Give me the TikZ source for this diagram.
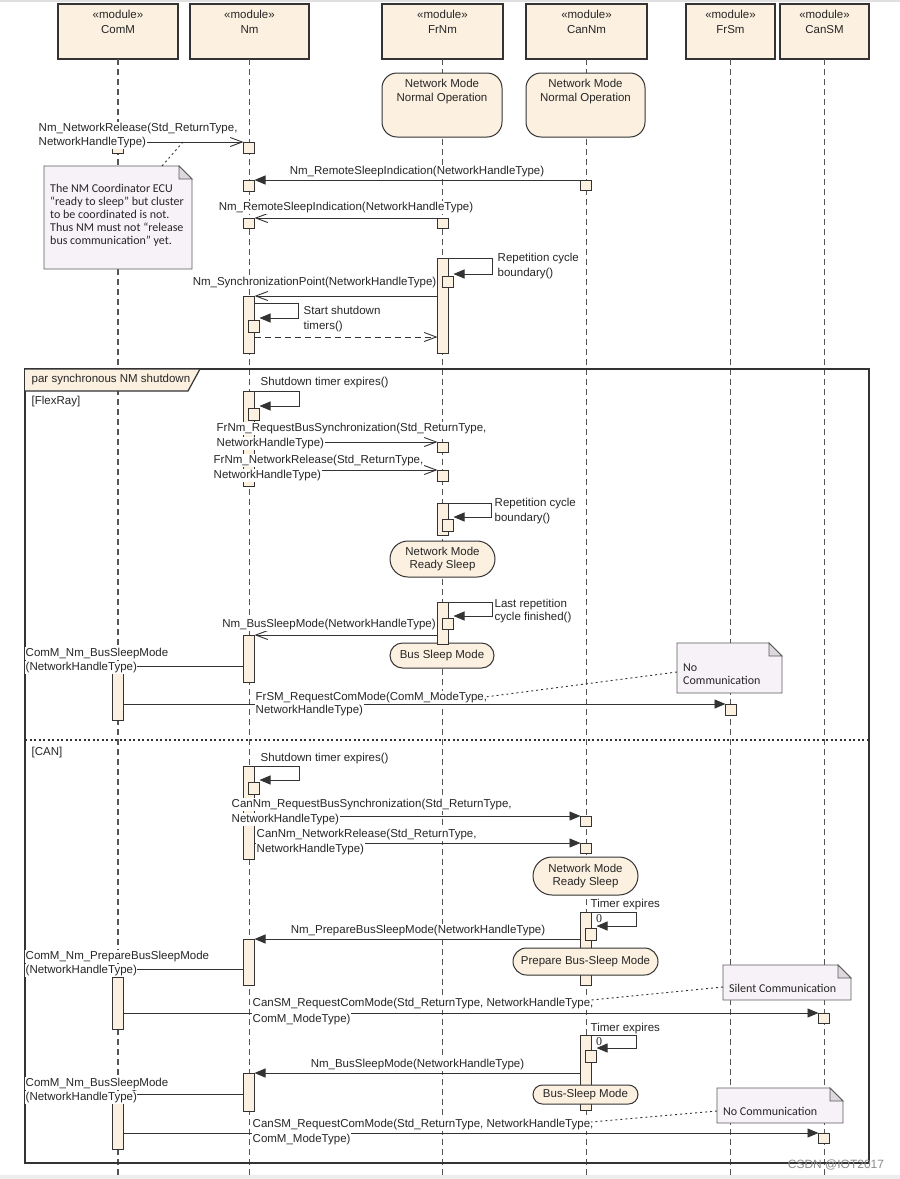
\documentclass[tikz,border=0pt]{standalone}
\usepackage{fontspec}
\setmainfont{Liberation Sans}
\newfontfamily\notefont{Carlito}
\newfontfamily\zerofont{Liberation Serif}
\usetikzlibrary{arrows.meta,shapes.misc,calc}
\definecolor{beige}{HTML}{FCF0E0}
\definecolor{ln}{HTML}{333333}
\definecolor{tx}{HTML}{262626}
\definecolor{notebg}{HTML}{F7F2F7}
\definecolor{notefold}{HTML}{DCD8DE}
\definecolor{lifeclr}{HTML}{555555}
\newcommand{\actbox}[4]{\node[actv,minimum height={(#4-#3)*1pt},anchor=north] (#1) at (#2,#3) {};}
\newcommand{\notebox}[5]{%
 \node[notearea,minimum width={(#4-#2)*1pt},minimum height={(#5-#3)*1pt},anchor=north west] (#1) at (#2,#3) {};
 \draw[noteshape] (#1.north west) -- ([xshift=-13pt]#1.north east) -- ([yshift=-13pt]#1.north east) -- (#1.south east) -- (#1.south west) -- cycle;
 \draw[notefoldst] ([xshift=-13pt]#1.north east) -- ([xshift=-13pt,yshift=-13pt]#1.north east) -- ([yshift=-13pt]#1.north east) -- cycle;}
\tikzset{
 actv/.style={draw=ln,fill=beige,line width=0.9pt,minimum width=11pt,inner sep=0pt,outer sep=0pt},
 modbox/.style={draw=ln,fill=beige,line width=1.1pt,minimum width=#1,minimum height=55pt,inner sep=0pt,outer sep=0pt},
 life/.style={draw=lifeclr,line width=1.1pt,dash pattern=on 6pt off 4pt},
 msg/.style={draw=ln,line width=0.9pt},
 msgopen/.style={msg,-{Straight Barb[length=12pt,width=9pt]}},
 msgsync/.style={msg,-{Triangle[length=11pt,width=9pt]}},
 msgret/.style={msg,dash pattern=on 6pt off 4pt,-{Straight Barb[length=12pt,width=9pt]}},
 lbl/.style={fill=white,inner xsep=0.5pt,inner ysep=1pt,text height=8.5pt,text depth=2.5pt,text=tx},
 txt/.style={inner sep=0.5pt,text height=8.5pt,text depth=2.5pt,text=tx},
 statebox/.style={draw=ln,fill=beige,line width=1pt,rounded corners=15pt,minimum width=120pt,minimum height=64pt,inner sep=0pt},
 stadium/.style={rounded rectangle,draw=ln,fill=beige,line width=1pt,inner sep=0pt,outer sep=0pt,align=center,text=tx},
 notearea/.style={inner sep=0pt,outer sep=0pt},
 noteshape/.style={draw=ln!80,fill=notebg,line width=0.9pt},
 notefoldst/.style={draw=ln!80,fill=notefold,line width=0.9pt},
 noteline/.style={draw=ln,line width=0.9pt,dash pattern=on 2pt off 3pt},
 notetxt/.style={font=\notefont\fontsize{12}{13}\selectfont,align=left,inner sep=0pt,text=tx},
 zero/.style={font=\zerofont\fontsize{12}{14}\selectfont,inner sep=0pt,text=tx},
}
\begin{document}
\begin{tikzpicture}[x=1pt,y=-1pt,font=\fontsize{11.5}{13}\selectfont]
\useasboundingbox (0,0) rectangle (900,1179);
\fill[white] (0,0) rectangle (900,1179);
\fill[black!12] (0,0) rectangle (900,2);
\fill[black!7] (0,1175) rectangle (900,1179);
\coordinate (bot) at (0,1179);

% module boxes
\node[modbox=120pt] (ComM) at (118,31.5) {};
\node[modbox=119pt] (Nm) at (249.5,31.5) {};
\node[modbox=121pt] (FrNm) at (442.5,31.5) {};
\node[modbox=121pt] (CanNm) at (586.5,31.5) {};
\node[modbox=89pt] (FrSm) at (730.5,31.5) {};
\node[modbox=89pt] (CanSM) at (824.5,31.5) {};

% lifelines
\draw[life] (ComM.south) -- (ComM.south |- bot);
\draw[life] (Nm.south) -- (Nm.south |- bot);
\draw[life] (FrNm.south) -- (FrNm.south |- bot);
\draw[life] (CanNm.south) -- (CanNm.south |- bot);
\draw[life] (FrSm.south) -- (FrSm.south |- bot);
\draw[life] (CanSM.south) -- (CanSM.south |- bot);

% module texts
\foreach \n/\x/\t in {ComM/118/ComM, Nm/249.5/Nm, FrNm/442.5/FrNm, CanNm/586.5/CanNm, FrSm/730.5/FrSm, CanSM/824.5/CanSM}{
 \node[txt] (\n s) at (\x,15) {«module»};
 \node[txt] (\n n) at (\x,30) {\t};
}

% initial states
\node[statebox] (sFrNO) at (442,105) {};
\node[txt] (sFrNOa) at (442,84) {Network Mode};
\node[txt] (sFrNOb) at (442,98) {Normal Operation};
\node[statebox,minimum width=119pt] (sCnNO) at (585.5,105) {};
\node[txt] (sCnNOa) at (585.5,84) {Network Mode};
\node[txt] (sCnNOb) at (585.5,98) {Normal Operation};

% combined fragment
\coordinate (frTL) at (25,369);
\coordinate (frBR) at (869,1163);
\draw[ln,line width=1.5pt] (frTL) rectangle (frBR);
\coordinate (sepL) at (25,740);
\coordinate (sepR) at (869,740);
\draw[ln,line width=1.2pt,dash pattern=on 2pt off 2.5pt] (sepL) -- (sepR);
\filldraw[fill=beige,draw=ln,line width=1.2pt] (25,369) -- (200,369) -- (188,391) -- (25,391);
\node[txt,anchor=west] (parlbl) at (31,379) {par synchronous NM shutdown};
\node[txt,anchor=west] (grd1) at (31,401) {[FlexRay]};
\node[txt,anchor=west] (grd2) at (31,752) {[CAN]};

% states in the fragment
\node[stadium,minimum width=105pt,minimum height=36pt] (sFrRS) at (442.5,559) {Network Mode\\Ready Sleep};
\node[stadium,minimum width=104pt,minimum height=25pt] (sFrBS) at (442,655.5) {Bus Sleep Mode};

% activations
\actbox{ac0}{118}{136}{153}
\actbox{anm1}{249}{142}{153}
\actbox{anm2}{249}{180}{191}
\actbox{anm3}{249}{218}{228}
\actbox{anm4}{249}{296}{353}
\actbox{anm4n}{254}{320}{332}
\actbox{acn1}{586}{180}{190}
\actbox{af1}{443}{218}{228}
\actbox{af2}{443}{258}{353}
\actbox{af2n}{448}{276}{287}

\actbox{anm5}{249}{391}{486}
\actbox{anm5n}{254}{408}{420}
\actbox{af3}{443}{442}{452}
\actbox{af4}{443}{470}{481}
\actbox{af5}{443}{503}{535}
\actbox{af5n}{448}{519}{531}
\actbox{af6}{443}{602}{644}
\actbox{af6n}{448}{618}{629}
\actbox{anm6}{249}{635}{682}
\actbox{ac1}{118}{672}{720}
\actbox{afs1}{731}{704}{715}

\actbox{anm7}{249}{766}{859}
\actbox{anm7n}{254}{782}{794}
\actbox{acn2}{586}{816}{826}
\actbox{acn3}{586}{843}{853}
\actbox{acn4}{586}{912}{985}
\actbox{acn4n}{591}{928}{940}
\actbox{anm8}{249}{939}{985}
\actbox{ac2}{118}{977}{1029}
\actbox{acs1}{824}{1013}{1023}
\actbox{acn5}{586}{1035}{1110}
\actbox{acn5n}{591}{1050}{1062}
\actbox{anm9}{249}{1073}{1111}
\actbox{ac3}{118}{1103}{1149}
\actbox{acs2}{824}{1133}{1143}

% CAN states (over activations)
\node[stadium,minimum width=105pt,minimum height=38pt] (sCnRS) at (585.5,876) {Network Mode\\Ready Sleep};
\node[stadium,minimum width=145pt,minimum height=27pt] (sCnPB) at (585.5,961.5) {Prepare Bus-Sleep Mode};
\node[stadium,minimum width=105pt,minimum height=19pt] (sCnBS) at (585.5,1094.5) {Bus-Sleep Mode};

% messages
\draw[msgopen] (ac0.east |- anm1.north) -- (anm1.north west);
\draw[msgsync] (acn1.north west) -- (anm2.north east);
\draw[msgopen] (af1.north west) -- (anm3.north east);
\draw[msgsync] (af2.north east) -- ++(44,0) |- ([yshift=2pt]af2n.north east);
\draw[msgopen] (af2.west |- anm4.north) -- (anm4.north east);
\draw[msgsync] ([yshift=-7pt]anm4.north east) -- ++(44,0) |- ([yshift=2pt]anm4n.north east);
\coordinate (r1s) at ([yshift=16pt]anm4.south east);
\draw[msgret] (r1s) -- (r1s -| af2.west);

\draw[msgsync] (anm5.north east) -- ++(45,0) |- ([yshift=2pt]anm5n.north east);
\draw[msgopen] (anm5.east |- af3.north) -- (af3.north west);
\draw[msgopen] (anm5.east |- af4.north) -- (af4.north west);
\draw[msgsync] (af5.north east) -- ++(43,0) |- ([yshift=2pt]af5n.north east);
\draw[msgsync] (af6.north east) -- ++(44,0) |- ([yshift=2pt]af6n.north east);
\draw[msgopen] (af6.west |- anm6.north) -- (anm6.north east);
\coordinate (m16e) at ([yshift=6pt]ac1.north east);
\draw[msgopen] (anm6.west |- m16e) -- (m16e);
\draw[msgsync] (ac1.east |- afs1.north) -- (afs1.north west);

\draw[msgsync] (anm7.north east) -- ++(45,0) |- ([yshift=2pt]anm7n.north east);
\draw[msgsync] (anm7.east |- acn2.north) -- (acn2.north west);
\draw[msgsync] (anm7.east |- acn3.north) -- (acn3.north west);
\draw[msgsync] (acn4.north east) -- ++(45,0) |- ([yshift=2pt]acn4n.north east);
\draw[msgsync] (acn4.west |- anm8.north) -- (anm8.north east);
\coordinate (m26e) at ([yshift=8pt]ac2.north east);
\draw[msgopen] (anm8.west |- m26e) -- (m26e);
\draw[msgsync] (ac2.east |- acs1.north) -- (acs1.north west);
\draw[msgsync] (acn5.north east) -- ++(45,0) |- ([yshift=2pt]acn5n.north east);
\draw[msgsync] (acn5.west |- anm9.north) -- (anm9.north east);
\coordinate (m32e) at ([yshift=9pt]ac3.north east);
\draw[msgopen] (anm9.west |- m32e) -- (m32e);
\draw[msgsync] (ac3.east |- acs2.north) -- (acs2.north west);

% labels
\node[lbl,anchor=west] (L1a) at (38,128) {Nm\_NetworkRelease(Std\_ReturnType,};
\node[lbl,anchor=west] (L1b) at (38,142) {NetworkHandleType)};
\node[lbl] (L2) at (417,171) {Nm\_RemoteSleepIndication(NetworkHandleType)};
\node[lbl] (L3) at (346,207) {Nm\_RemoteSleepIndication(NetworkHandleType)};
\node[txt,anchor=west] (L4a) at (497,258) {Repetition cycle};
\node[txt,anchor=west] (L4b) at (497,273) {boundary()};
\node[lbl,anchor=east] (L5) at (437,282) {Nm\_SynchronizationPoint(NetworkHandleType)};
\node[txt,anchor=west] (L6a) at (303,311) {Start shutdown};
\node[txt,anchor=west] (L6b) at (303,326) {timers()};

\node[txt,anchor=west] (L8) at (260,382) {Shutdown timer expires()};
\node[lbl,anchor=west] (L9a) at (216,428) {FrNm\_RequestBusSynchronization(Std\_ReturnType,};
\node[lbl,anchor=west] (L9b) at (216,443) {NetworkHandleType)};
\node[lbl,anchor=west] (L10a) at (213,460) {FrNm\_NetworkRelease(Std\_ReturnType,};
\node[lbl,anchor=west] (L10b) at (213,475) {NetworkHandleType)};
\node[txt,anchor=west] (L11a) at (494,503) {Repetition cycle};
\node[txt,anchor=west] (L11b) at (494,518) {boundary()};
\node[txt,anchor=west] (L13a) at (494,604) {Last repetition};
\node[txt,anchor=west] (L13b) at (494,617) {cycle finished()};
\node[lbl] (L14) at (329,624) {Nm\_BusSleepMode(NetworkHandleType)};
\node[lbl,anchor=west] (L16a) at (25,653) {ComM\_Nm\_BusSleepMode};
\node[lbl,anchor=west] (L16b) at (25,667) {(NetworkHandleType)};
\node[lbl,anchor=west] (L17a) at (255,697) {FrSM\_RequestComMode(ComM\_ModeType,};
\node[lbl,anchor=west] (L17b) at (255,710) {NetworkHandleType)};

\node[txt,anchor=west] (L19) at (260,758) {Shutdown timer expires()};
\node[lbl,anchor=west] (L20a) at (231,804) {CanNm\_RequestBusSynchronization(Std\_ReturnType,};
\node[lbl,anchor=west] (L20b) at (231,819) {NetworkHandleType)};
\node[lbl,anchor=west] (L21a) at (256,834) {CanNm\_NetworkRelease(Std\_ReturnType,};
\node[lbl,anchor=west] (L21b) at (256,849) {NetworkHandleType)};
\node[txt,anchor=west] (L23) at (590,904) {Timer expires};
\node[zero] (Z1) at (599,919) {0};
\node[lbl] (L24) at (418,930) {Nm\_PrepareBusSleepMode(NetworkHandleType)};
\node[lbl,anchor=west] (L26a) at (25,956) {ComM\_Nm\_PrepareBusSleepMode};
\node[lbl,anchor=west] (L26b) at (25,970) {(NetworkHandleType)};
\node[lbl,anchor=west] (L27a) at (252,1003) {CanSM\_RequestComMode(Std\_ReturnType, NetworkHandleType,};
\node[lbl,anchor=west] (L27b) at (252,1019) {ComM\_ModeType)};
\node[txt,anchor=west] (L29) at (590,1028) {Timer expires};
\node[zero] (Z2) at (599,1042) {0};
\node[lbl] (L30) at (417.5,1064) {Nm\_BusSleepMode(NetworkHandleType)};
\node[lbl,anchor=west] (L32a) at (25,1083) {ComM\_Nm\_BusSleepMode};
\node[lbl,anchor=west] (L32b) at (25,1097) {(NetworkHandleType)};
\node[lbl,anchor=west] (L33a) at (252,1124) {CanSM\_RequestComMode(Std\_ReturnType, NetworkHandleType,};
\node[lbl,anchor=west] (L33b) at (252,1139) {ComM\_ModeType)};

% notes
\notebox{N1}{44}{166}{192}{269}
\node[notetxt,anchor=west] (N1t) at (50,215) {The NM Coordinator ECU\\“ready to sleep” but cluster\\to be coordinated is not.\\Thus NM must not “release\\bus communication” yet.};
\coordinate (N1a) at (162,166);
\coordinate (N1b) at (183,142);
\draw[noteline] (N1a) -- (N1b);

\notebox{N2}{677}{643}{782}{693}
\node[notetxt,anchor=west] (N2t) at (683,674) {No\\Communication};
\coordinate (N2a) at (677,672);
\coordinate (N2b) at (485,697);
\draw[noteline] (N2a) -- (N2b);

\notebox{N3}{723}{965}{851}{1000}
\node[notetxt,anchor=west] (N3t) at (729,988) {Silent Communication};
\coordinate (N3a) at (723,987);
\coordinate (N3b) at (591,1000);
\draw[noteline] (N3a) -- (N3b);

\notebox{N4}{717}{1088}{843}{1123}
\node[notetxt,anchor=west] (N4t) at (723,1111) {No Communication};
\coordinate (N4a) at (717,1111);
\coordinate (N4b) at (591,1122);
\draw[noteline] (N4a) -- (N4b);

% watermark
\node[text=black!45,font=\fontsize{12}{14}\selectfont,inner sep=0pt] (wm) at (836,1165) {CSDN @IOT2017};
\end{tikzpicture}
\end{document}
